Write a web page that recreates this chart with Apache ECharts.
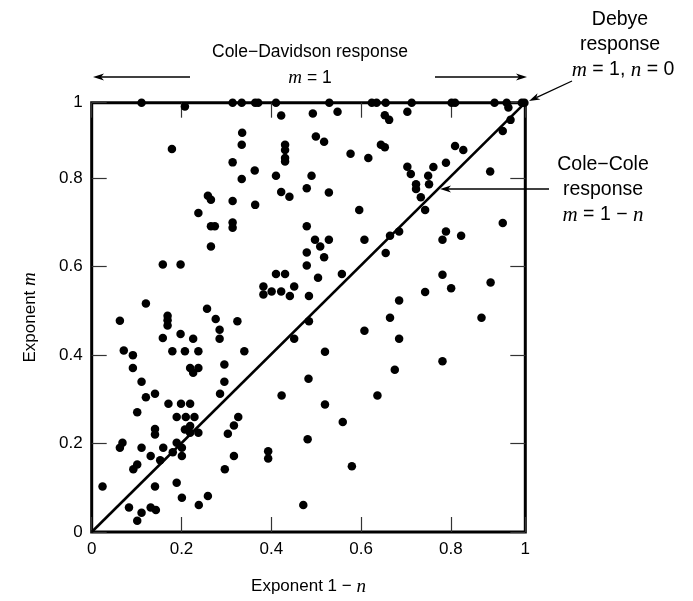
<!DOCTYPE html>
<html>
<head>
<meta charset="utf-8">
<script src="https://cdn.jsdelivr.net/npm/echarts@6/dist/echarts.min.js"></script>
<style>html,body{margin:0;padding:0;background:#fff;}#c{width:693px;height:601px;}</style>
</head>
<body>
<div id="c"></div>
<script>
// Exponent (1 - n) values of points lying on the m = 1 edge (Cole–Davidson)
const topEdgeX = [0.115,0.325,0.346,0.377,0.384,0.425,0.548,0.646,0.657,0.678,0.738,0.830,0.838,0.929,0.957,0.992,0.998];
const topEdgeM = 1;
// Other measured points: [1 - n, m]
const points = [
[0.215,0.991],[0.437,0.970],[0.961,0.989],[0.510,0.975],[0.567,0.979],[0.676,0.971],[0.686,0.960],[0.728,0.979],[0.966,0.960],[0.948,0.934],
[0.347,0.930],[0.346,0.902],[0.446,0.902],[0.446,0.890],[0.446,0.871],[0.446,0.863],[0.185,0.892],[0.517,0.921],[0.536,0.909],[0.667,0.902],
[0.676,0.896],[0.838,0.899],[0.857,0.890],[0.597,0.881],[0.638,0.871],[0.325,0.861],[0.376,0.842],[0.425,0.830],[0.346,0.822],[0.728,0.851],
[0.736,0.834],[0.788,0.850],[0.817,0.860],[0.919,0.840],[0.776,0.830],[0.778,0.810],[0.748,0.810],[0.748,0.799],[0.507,0.830],[0.496,0.801],
[0.547,0.791],[0.437,0.792],[0.456,0.781],[0.268,0.783],[0.275,0.774],[0.325,0.771],[0.377,0.762],[0.759,0.780],[0.769,0.750],[0.617,0.750],
[0.246,0.743],[0.275,0.712],[0.284,0.712],[0.325,0.721],[0.325,0.709],[0.496,0.712],[0.948,0.720],[0.515,0.681],[0.527,0.665],[0.547,0.681],
[0.629,0.681],[0.688,0.690],[0.709,0.700],[0.817,0.700],[0.809,0.681],[0.852,0.690],[0.275,0.665],[0.164,0.623],[0.205,0.623],[0.496,0.651],
[0.496,0.621],[0.425,0.601],[0.446,0.601],[0.396,0.572],[0.396,0.553],[0.415,0.560],[0.437,0.560],[0.457,0.550],[0.467,0.572],[0.501,0.550],
[0.125,0.532],[0.065,0.492],[0.175,0.504],[0.175,0.493],[0.175,0.481],[0.266,0.520],[0.286,0.496],[0.336,0.491],[0.295,0.471],[0.295,0.450],
[0.164,0.452],[0.205,0.461],[0.234,0.450],[0.501,0.491],[0.467,0.450],[0.074,0.423],[0.095,0.412],[0.186,0.421],[0.215,0.421],[0.246,0.421],
[0.352,0.421],[0.095,0.382],[0.227,0.382],[0.246,0.382],[0.234,0.371],[0.306,0.390],[0.115,0.350],[0.306,0.350],[0.125,0.314],[0.146,0.322],
[0.296,0.322],[0.438,0.318],[0.500,0.357],[0.536,0.640],[0.678,0.650],[0.522,0.592],[0.577,0.601],[0.809,0.599],[0.829,0.568],[0.920,0.581],
[0.769,0.559],[0.709,0.539],[0.688,0.499],[0.899,0.499],[0.629,0.469],[0.709,0.450],[0.538,0.420],[0.809,0.398],[0.699,0.378],[0.659,0.318],
[0.177,0.299],[0.206,0.299],[0.227,0.299],[0.105,0.279],[0.196,0.268],[0.217,0.268],[0.237,0.268],[0.338,0.268],[0.328,0.248],[0.146,0.240],
[0.146,0.227],[0.215,0.239],[0.227,0.247],[0.227,0.231],[0.246,0.231],[0.314,0.229],[0.498,0.216],[0.071,0.208],[0.065,0.196],[0.115,0.196],
[0.165,0.196],[0.196,0.208],[0.208,0.196],[0.187,0.186],[0.136,0.177],[0.208,0.177],[0.158,0.167],[0.328,0.177],[0.407,0.188],[0.407,0.171],
[0.105,0.157],[0.096,0.146],[0.307,0.146],[0.025,0.106],[0.146,0.106],[0.196,0.115],[0.208,0.080],[0.268,0.084],[0.247,0.063],[0.488,0.063],
[0.086,0.057],[0.136,0.057],[0.148,0.051],[0.115,0.045],[0.105,0.026],[0.538,0.297],[0.579,0.256],[0.600,0.153]
];
// Cole–Cole line m = 1 - n  (drawn as m vs 1-n)
const coleColeLine = [[0, 0], [1, 1]];
// Tick labels of the printed scale (drawn ticks are slightly wider spaced than the frame)
const tickLabels = ['0', '0.2', '0.4', '0.6', '0.8', '1'];
const xScaleEnd = 0.9657; // frame edge in printed-tick units
const yScaleEnd = 0.9707;

const FONT = 'Liberation Sans, Arial, sans-serif';
const SERIF = 'Liberation Serif, Times New Roman, serif';
const italic = { fontFamily: SERIF, fontStyle: 'italic', fontSize: 19, color: '#000' };
const italicBig = { fontFamily: SERIF, fontStyle: 'italic', fontSize: 21, color: '#000' };

const allPoints = topEdgeX.map(x => [x, topEdgeM]).concat(points);

function labelFmt(v) {
  const i = Math.round(v / 0.2);
  if (Math.abs(v - i * 0.2) > 0.01) return tickLabels[tickLabels.length - 1];
  return tickLabels[i];
}

function arrow(x1, y1, x2, y2) {
  const a = Math.atan2(y2 - y1, x2 - x1);
  const L = 11, W = 3.5;
  const bx = x2 - L * Math.cos(a), by = y2 - L * Math.sin(a);
  const px = -Math.sin(a) * W, py = Math.cos(a) * W;
  const bx2 = x2 - (L - 3) * Math.cos(a), by2 = y2 - (L - 3) * Math.sin(a);
  return [
    { type: 'line', shape: { x1: x1, y1: y1, x2: bx2, y2: by2 }, style: { stroke: '#000', lineWidth: 1.3 }, z: 100 },
    { type: 'polygon', shape: { points: [[x2, y2], [bx + px, by + py], [bx2, by2], [bx - px, by - py]] }, style: { fill: '#000' }, z: 100 }
  ];
}

function txt(x, y, text, size, rich) {
  return {
    type: 'text', x: x, y: y, z: 100,
    style: {
      text: text, fontFamily: FONT, fontSize: size || 17, fill: '#000',
      align: 'center', verticalAlign: 'middle',
      rich: { i: rich || italic }
    }
  };
}

const tickAxisCommon = {
  min: 0, interval: 0.2,
  axisLine: { show: false, onZero: false },
  splitLine: { show: false },
  axisTick: { show: true, inside: true, length: 15, lineStyle: { color: '#333', width: 1.2 } }
};

const chart = echarts.init(document.getElementById('c'), null, { renderer: 'canvas' });
chart.setOption({
  animation: false,
  backgroundColor: '#fff',
  grid: {
    left: 91.7, right: 167.7, top: 102.7, bottom: 68.3,
    show: true, borderColor: '#000', borderWidth: 3, backgroundColor: 'transparent'
  },
  xAxis: [
    { type: 'value', min: 0, max: 1, show: false, axisLine: { onZero: false } },
    Object.assign({}, tickAxisCommon, {
      type: 'value', position: 'bottom', max: xScaleEnd,
      axisLabel: { show: true, margin: 9, fontFamily: FONT, fontSize: 17, color: '#000', formatter: labelFmt, showMaxLabel: true, showMinLabel: true },
      name: 'Exponent 1 − {i|n}', nameLocation: 'middle', nameGap: 45,
      nameTextStyle: { fontFamily: FONT, fontSize: 17, color: '#000', rich: { i: italic } }
    }),
    Object.assign({}, tickAxisCommon, {
      type: 'value', position: 'top', max: xScaleEnd, axisLabel: { show: false }
    })
  ],
  yAxis: [
    { type: 'value', min: 0, max: 1, show: false, axisLine: { onZero: false } },
    Object.assign({}, tickAxisCommon, {
      type: 'value', position: 'left', max: yScaleEnd,
      axisLabel: { show: true, margin: 9, fontFamily: FONT, fontSize: 17, color: '#000', formatter: labelFmt, showMaxLabel: true, showMinLabel: true },
      name: 'Exponent {i|m}', nameLocation: 'middle', nameGap: 52,
      nameTextStyle: { fontFamily: FONT, fontSize: 17, color: '#000', rich: { i: italic } }
    }),
    Object.assign({}, tickAxisCommon, {
      type: 'value', position: 'right', max: yScaleEnd, axisLabel: { show: false }
    })
  ],
  series: [
    {
      type: 'line', xAxisIndex: 0, yAxisIndex: 0, data: coleColeLine,
      showSymbol: false, symbol: 'none', lineStyle: { color: '#000', width: 2.6, opacity: 1 }, z: 2, silent: true
    },
    {
      type: 'scatter', xAxisIndex: 0, yAxisIndex: 0, data: allPoints,
      symbol: 'circle', symbolSize: 8.5, itemStyle: { color: '#000', opacity: 1 }, z: 5, clip: false
    }
  ],
  graphic: [].concat(
    [txt(310, 52, 'Cole−Davidson response', 17.5), txt(310, 78, '{i|m} = 1', 17.5)],
    arrow(190, 77, 93, 77),
    arrow(435, 77, 527, 77),
    [txt(620, 20, 'Debye', 19.5), txt(620, 45, 'response', 19.5), txt(623, 70, '{i|m} = 1, {i|n} = 0', 19.5, italicBig)],
    arrow(572, 81, 529, 101),
    [txt(603, 165, 'Cole−Cole', 19.5), txt(603, 190, 'response', 19.5), txt(603, 215, '{i|m} = 1 − {i|n}', 19.5, italicBig)],
    arrow(549, 189, 440, 189)
  )
});
</script>
</body>
</html>
